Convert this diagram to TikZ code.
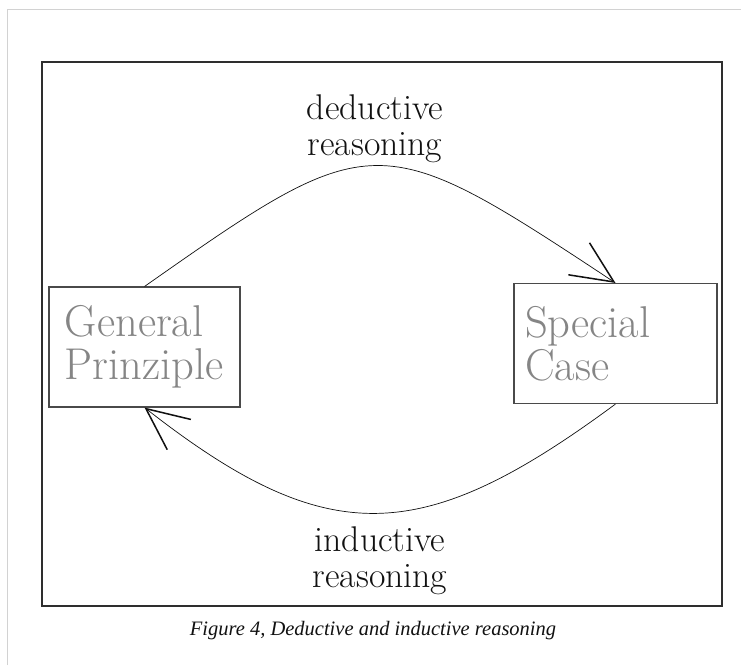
\documentclass[tikz,border=0pt]{standalone}
\usepackage{fontspec}
\newfontfamily\capfont{Liberation Serif}
\usetikzlibrary{arrows.meta}
\definecolor{ink}{HTML}{111111}
\definecolor{boxtext}{HTML}{858585}
\definecolor{frameline}{HTML}{2E2E2E}
\definecolor{boxline}{HTML}{4A4A4A}
\definecolor{pageline}{HTML}{D2D2D2}
\tikzset{
  concept/.style={
    rectangle, draw=boxline, line width=0.9pt, text=boxtext, align=left,
    inner ysep=0pt, minimum height=3.6cm, font=\fontsize{38}{37}\selectfont
  },
  frame/.style={draw=frameline, line width=1.4pt},
  flow/.style={draw=ink, line width=0.6pt,
    -{Straight Barb[length=12.6mm,width=11.5mm,line width=1.3pt]}},
  tag/.style={align=center, text=ink, font=\fontsize{30.5}{30.7}\selectfont},
  captext/.style={text=ink, font=\capfont\itshape\fontsize{17.5}{20}\selectfont}
}

\begin{document}
\begin{tikzpicture}[x=0.03cm,y=-0.03cm]
  \useasboundingbox (0,0) rectangle (741,665);
  \draw[pageline, line width=0.8pt] (7,665) -- (7,9) -- (741,9);
  \draw[frame] (42,62) rectangle (722,606);

  \node[concept, text width=4.77cm, inner xsep=0.48cm] (gp) at (144.5,347) {General\\Prinziple};
  \node[concept, text width=5.43cm, inner xsep=0.33cm] (sc) at (615.5,343.5) {Special\\Case};

  % deduction on top, induction below
  \draw[flow] (gp.north) .. controls (373,126) and (378,126) .. (sc.north);
  \draw[flow] (sc.south) .. controls (422,547) and (328,551) .. (gp.south);

  \node[tag] (ded) at (375,129) {deductive\\reasoning};
  \node[tag] (ind) at (380,561) {inductive\\reasoning};

  \node[captext] (cap) at (373,631) {Figure 4, Deductive and inductive reasoning};
\end{tikzpicture}
\end{document}
